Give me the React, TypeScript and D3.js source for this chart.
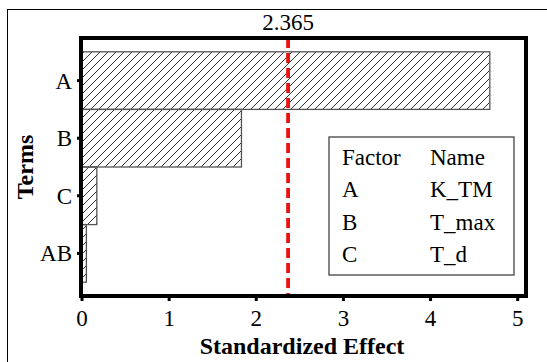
import React from "react"
import * as d3 from "d3"

const terms = ["A", "B", "C", "AB"]
const effects = [4.68, 1.83, 0.17, 0.05]
const xTicks = [0, 1, 2, 3, 4, 5]
const threshold = 2.365
const legendFactors = ["A", "B", "C"]
const legendNames = ["K_TM", "T_max", "T_d"]

const width = 547
const height = 362
const margin = { top: 38, right: 22, bottom: 66, left: 82 }
const font = "Liberation Serif"

export default function App() {
  const boundsRight = width - margin.right
  const boundsBottom = height - margin.bottom

  const x = d3.scaleLinear().domain([0, 5]).range([margin.left, 517.7])
  const y = d3.scaleBand<string>()
    .domain(terms)
    .range([margin.top, boundsBottom])
    .paddingInner(0)
    .paddingOuter(0.24)

  const legX = 329, legY = 137, legW = 185, legH = 138

  return (
    <svg width={width} height={height} style={{ position: "absolute", left: 0, top: 0, fontFamily: font }}>
      <defs>
        <pattern id="hatch" patternUnits="userSpaceOnUse" width={8} height={8}>
          <path d="M-1,1 l2,-2 M0,8 l8,-8 M7,9 l2,-2" stroke="#333" strokeWidth={1} />
        </pattern>
      </defs>
      <rect x={0} y={0} width={width} height={height} fill="white" />
      <rect x={7.5} y={9.5} width={width + 20} height={height + 20} fill="none" stroke="#000" strokeWidth={1} />

      {/* bars */}
      {terms.map((t, i) => (
        <rect
          key={t}
          x={x(0)}
          y={y(t)}
          width={x(effects[i]) - x(0)}
          height={y.bandwidth()}
          fill="url(#hatch)"
          stroke="#555"
          strokeWidth={1.3}
        />
      ))}

      {/* threshold */}
      <line
        x1={x(threshold)}
        x2={x(threshold)}
        y1={margin.top}
        y2={boundsBottom}
        stroke="#f01010"
        strokeWidth={3.8}
        strokeDasharray="10,5"
      />
      <text x={x(threshold)} y={30} textAnchor="middle" fontSize={23}>
        {threshold}
      </text>

      {/* frame */}
      <rect
        x={margin.left - 1}
        y={margin.top}
        width={boundsRight - margin.left + 2}
        height={boundsBottom - margin.top}
        fill="none"
        stroke="#000"
        strokeWidth={4}
      />

      {/* x ticks */}
      {xTicks.map(t => (
        <g key={t}>
          <line x1={x(t)} x2={x(t)} y1={boundsBottom} y2={boundsBottom + 5} stroke="#000" strokeWidth={3} />
          <text x={x(t)} y={326} textAnchor="middle" fontSize={23}>{t}</text>
        </g>
      ))}

      {/* y ticks */}
      {terms.map(t => {
        const cy = (y(t) as number) + y.bandwidth() / 2
        return (
          <g key={t}>
            <line x1={margin.left - 5} x2={margin.left} y1={cy} y2={cy} stroke="#000" strokeWidth={3} />
            <text x={72} y={cy} dy="0.35em" textAnchor="end" fontSize={23}>{t}</text>
          </g>
        )
      })}

      {/* axis titles */}
      <text x={302} y={354} textAnchor="middle" fontSize={24} fontWeight="bold">
        Standardized Effect
      </text>
      <text
        transform={`translate(33,${(margin.top + boundsBottom) / 2}) rotate(-90)`}
        textAnchor="middle"
        fontSize={24}
        fontWeight="bold"
      >
        Terms
      </text>

      {/* legend */}
      <rect x={legX} y={legY} width={legW} height={legH} fill="white" stroke="#444" strokeWidth={1.3} />
      <text x={342} y={165} fontSize={23}>Factor</text>
      <text x={430} y={165} fontSize={23}>Name</text>
      {legendFactors.map((f, i) => (
        <g key={f}>
          <text x={342} y={197 + i * 32.5} fontSize={23}>{f}</text>
          <text x={430} y={197 + i * 32.5} fontSize={23}>{legendNames[i]}</text>
        </g>
      ))}
    </svg>
  )
}
